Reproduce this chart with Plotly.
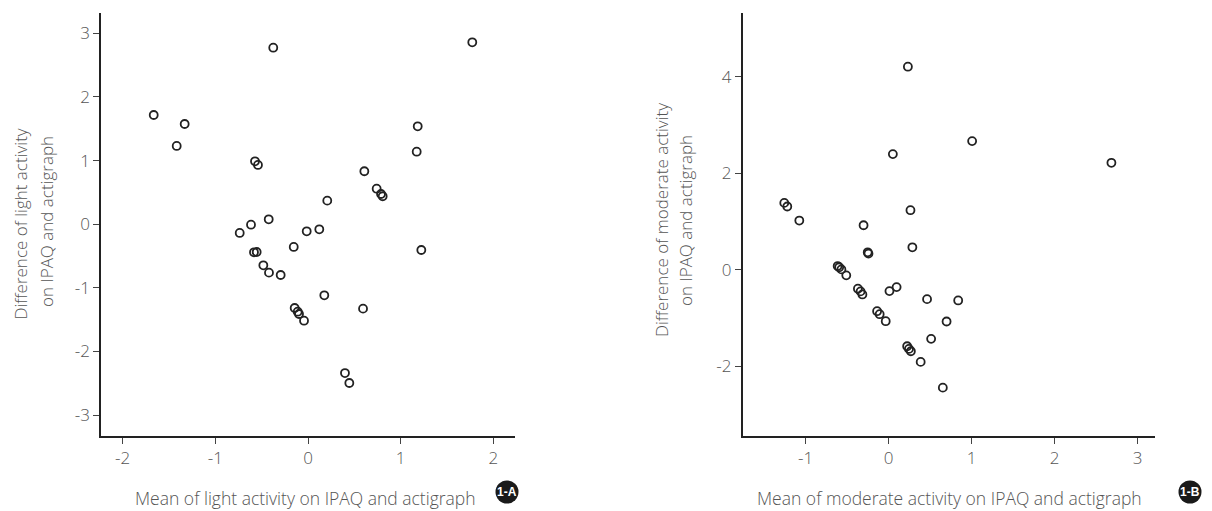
import plotly.graph_objects as go

# ---- data ----
light_mean = [1.773, -0.375, -1.665, -1.331, -1.417, 1.184, 1.173, -0.572, -0.540, 0.608,
              0.741, 0.788, 0.806, 0.208, -0.424, -0.615, -0.737, -0.014, 0.122, -0.154,
              -0.583, -0.554, 1.223, -0.482, -0.421, -0.295, 0.176, 0.594, -0.144, -0.111,
              -0.097, -0.043, 0.399, 0.446]
light_diff = [2.86, 2.775, 1.717, 1.575, 1.23, 1.539, 1.14, 0.989, 0.931, 0.832,
              0.558, 0.475, 0.439, 0.37, 0.077, -0.008, -0.138, -0.112, -0.08, -0.358,
              -0.442, -0.437, -0.406, -0.646, -0.762, -0.799, -1.118, -1.328, -1.318, -1.376,
              -1.412, -1.517, -2.34, -2.497]

mod_mean = [0.231, 1.005, 0.050, 2.683, -1.258, -1.222, -1.077, 0.262, -0.303, 0.285,
            -0.253, -0.244, -0.615, -0.597, -0.570, -0.511, -0.371, -0.339, -0.317, 0.009,
            0.095, 0.462, 0.837, -0.140, -0.109, -0.036, 0.697, 0.511, 0.222, 0.244,
            0.267, 0.385, 0.652]
mod_diff = [4.21, 2.667, 2.397, 2.217, 1.385, 1.31, 1.019, 1.233, 0.921, 0.464,
            0.36, 0.333, 0.075, 0.05, 0.006, -0.118, -0.395, -0.451, -0.514, -0.445,
            -0.362, -0.611, -0.638, -0.861, -0.923, -1.069, -1.075, -1.435, -1.588, -1.643,
            -1.692, -1.913, -2.447]

light_xticks = [-2, -1, 0, 1, 2]
light_yticks = [-3, -2, -1, 0, 1, 2, 3]
mod_xticks = [-1, 0, 1, 2, 3]
mod_yticks = [-2, 0, 2, 4]

xtitle_a = "Mean of light activity on IPAQ and actigraph"
ytitle_a = ["Difference of light activity", "on IPAQ and actigraph"]
xtitle_b = "Mean of moderate activity on IPAQ and actigraph"
ytitle_b = ["Difference of moderate activity", "on IPAQ and actigraph"]

W, H = 1212, 511
FONT = "Open Sans"
TXT = "#555555"

def px(x):
    return x / W

def py(y):
    return 1 - y / H

def labels(vals):
    return [str(v) for v in vals]

marker = dict(symbol="circle-open", size=8, color="#222222", line=dict(width=1.8, color="#222222"))

fig = go.Figure()
fig.add_trace(go.Scatter(x=light_mean, y=light_diff, mode="markers", marker=marker,
                         xaxis="x", yaxis="y", showlegend=False))
fig.add_trace(go.Scatter(x=mod_mean, y=mod_diff, mode="markers", marker=marker,
                         xaxis="x2", yaxis="y2", showlegend=False))

ydom = [py(436), py(12.7)]
axis_common = dict(showline=True, linecolor="#222222", linewidth=1.5, ticks="outside",
                   ticklen=6, tickwidth=1, tickcolor="#444444", showgrid=False, zeroline=False,
                   tickfont=dict(family=FONT, size=17, color=TXT, weight=300), mirror=False,
                   automargin=False)

fig.update_layout(
    width=W, height=H,
    margin=dict(l=0, r=0, t=0, b=0),
    paper_bgcolor="white", plot_bgcolor="white",
    xaxis=dict(domain=[px(101), px(515)], range=[-2.234, 2.234], tickvals=light_xticks,
               ticktext=labels(light_xticks), anchor="y", **axis_common),
    yaxis=dict(domain=ydom, range=[-3.33, 3.325], tickvals=light_yticks,
               ticktext=labels(light_yticks), anchor="x", **axis_common),
    xaxis2=dict(domain=[px(742.7), px(1155)], range=[-1.759, 3.208], tickvals=mod_xticks,
                ticktext=labels(mod_xticks), anchor="y2", **axis_common),
    yaxis2=dict(domain=ydom, range=[-3.45, 5.33], tickvals=mod_yticks,
                ticktext=labels(mod_yticks), anchor="x2", **axis_common),
)

xt_font = dict(family=FONT, size=17.5, color=TXT, weight=300)
yt_font = dict(family=FONT, size=17, color=TXT, weight=300)

def anno(text, x, y, font, angle=0):
    return dict(text=text, x=px(x), y=py(y), xref="paper", yref="paper", textangle=angle,
                showarrow=False, font=font, xanchor="center", yanchor="middle")

annos = [
    anno(xtitle_a, 305, 497.5, xt_font),
    anno(ytitle_a[0], 19.5, 224, yt_font, -90),
    anno(ytitle_a[1], 46, 222, yt_font, -90),
    anno(xtitle_b, 949, 497.5, xt_font),
    anno(ytitle_b[0], 661, 220, yt_font, -90),
    anno(ytitle_b[1], 686, 221, yt_font, -90),
]

shapes = []
for label, cx in (("1-A", 507), ("1-B", 1190)):
    shapes.append(dict(type="circle", xref="paper", yref="paper",
                       xsizemode="pixel", ysizemode="pixel",
                       xanchor=px(cx), yanchor=py(492), x0=-11.5, x1=11.5, y0=-11.5, y1=11.5,
                       fillcolor="#1a1a1a", line=dict(width=0)))
    annos.append(dict(text="<b>%s</b>" % label, x=px(cx), y=py(492), xref="paper", yref="paper",
                      showarrow=False, xanchor="center", yanchor="middle",
                      font=dict(family="Liberation Sans Narrow, Liberation Sans", size=12, color="white")))

fig.update_layout(annotations=annos, shapes=shapes)
fig.write_html("out.html", config={"displayModeBar": False},
               post_script="document.body.style.margin='0px';")
